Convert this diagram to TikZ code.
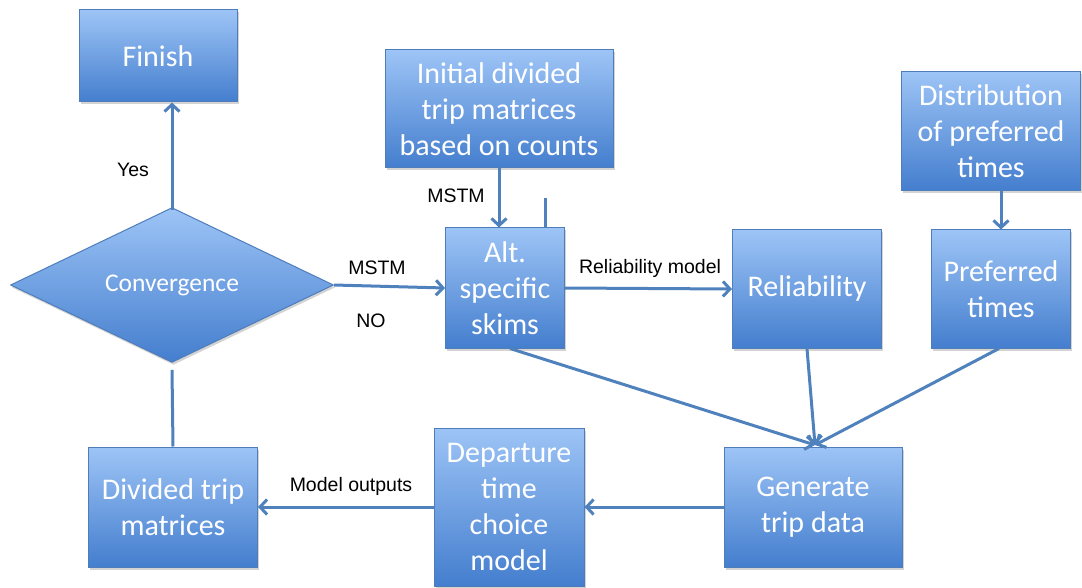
\documentclass[tikz,border=0pt]{standalone}
\usepackage{fontspec}
\usepackage{tikz}
\usetikzlibrary{shapes.geometric}
\usetikzlibrary{shadows}
\usetikzlibrary{arrows.meta}
\setmainfont{Carlito}
\newfontfamily\labelfont{Liberation Sans}
\definecolor{boxtop}{RGB}{157,196,246}
\definecolor{boxbot}{RGB}{68,126,206}
\definecolor{boxline}{RGB}{78,125,186}
\definecolor{flowblue}{RGB}{79,129,189}
\tikzset{
  flowbox/.style={
    draw=boxline, line width=1pt, top color=boxtop, bottom color=boxbot,
    text=white, align=center, inner sep=0pt,
    font=\fontsize{30}{36}\selectfont,
    drop shadow={opacity=0.35, shadow xshift=1.5pt, shadow yshift=-2.5pt},
  },
  decision/.style={
    flowbox, diamond, font=\fontsize{25.5}{30}\selectfont,
  },
  flowline/.style={
    draw=flowblue, line width=3pt, -{Straight Barb[length=7pt,width=15pt]},
  },
  lbl/.style={
    font=\labelfont\fontsize{19.5}{23}\selectfont, text=black, inner sep=0pt,
  },
}
\begin{document}
\begin{tikzpicture}[x=1pt,y=-1pt]

                \useasboundingbox (0,0) rectangle (1082,588);

                \node[flowbox, minimum width=158pt, minimum height=92pt] (finish) at (158,56) {Finish};
                \node[flowbox, minimum width=228pt, minimum height=118pt] (init) at (499,109) {Initial divided\\trip matrices\\based on counts};
                \node[flowbox, minimum width=179pt, minimum height=119pt] (dist) at (991,131) {Distribution\\of preferred\\times};

                \node[decision, minimum width=323pt, minimum height=154pt] (conv) at (172,285) {Convergence};
                \node[flowbox, minimum width=119pt, minimum height=120pt] (alt) at (505,288) {Alt.\\specific\\skims};
                \node[flowbox, minimum width=149pt, minimum height=118pt] (rel) at (807,289) {Reliability};
                \node[flowbox, minimum width=139pt, minimum height=118pt] (pref) at (1001,289) {Preferred\\times};

                \node[flowbox, minimum width=169pt, minimum height=120pt] (div) at (173,507) {Divided trip\\matrices};
                \node[flowbox, minimum width=150pt, minimum height=158pt] (dep) at (509,507) {Departure\\time\\choice\\model};
                \node[flowbox, minimum width=178pt, minimum height=120pt] (gen) at (813,507) {Generate\\trip data};

                \coordinate (tick) at (545,198);
                \coordinate (meet) at (815,445);

                \draw[flowline] ([yshift=-3pt]conv.north) -- (conv.north |- finish.south);
                \draw[flowline] (init.south) -- (alt.north -| init.south);
                \draw[flowline, -] (tick) -- (tick |- alt.north);
                \draw[flowline] (conv.east) -- (alt.west);
                \draw[flowline] (alt.east) -- (rel.west);
                \draw[flowline] (dist.south -| pref.north) -- (pref.north);
                \draw[flowline] ([xshift=5pt]alt.south) -- (meet);
                \draw[flowline] (rel.south) -- (meet);
                \draw[flowline] ([xshift=-2pt]pref.south) -- (meet);
                \draw[flowline] (gen.west) -- (dep.east);
                \draw[flowline] (dep.west) -- (div.east);
                \draw[flowline, -] (div.north) -- ([yshift=-7pt]conv.south);

                \node[lbl] (yes) at (133,170) {Yes};
                \node[lbl] (mstma) at (456,196) {MSTM};
                \node[lbl] (mstmb) at (377,268) {MSTM};
                \node[lbl] (no) at (371,321) {NO};
                \node[lbl] (relmodel) at (650,268) {Reliability model};
                \node[lbl] (outputs) at (351,486) {Model outputs};

\end{tikzpicture}
\end{document}
